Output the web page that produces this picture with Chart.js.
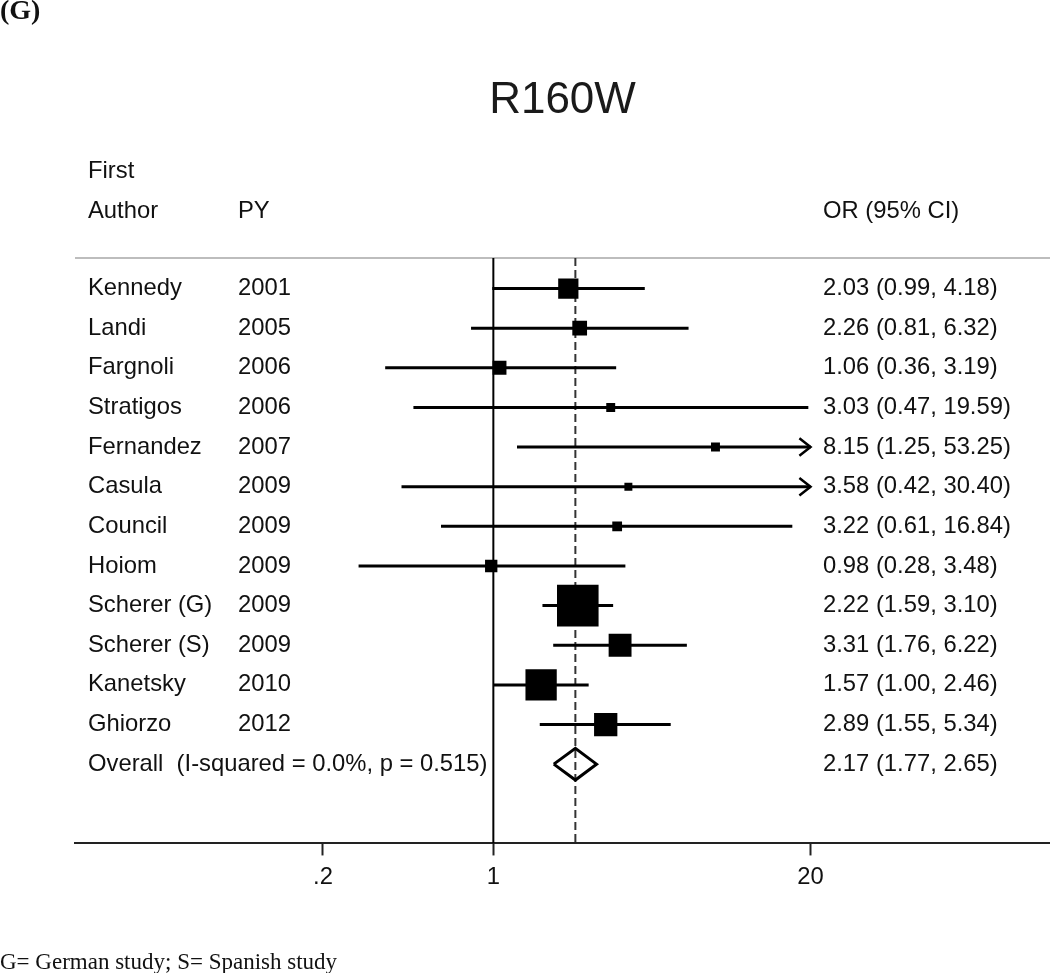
<!DOCTYPE html>
<html>
<head>
<meta charset="utf-8">
<title>R160W</title>
<script src="https://cdn.jsdelivr.net/npm/chart.js@4.4.1/dist/chart.umd.min.js"></script>
<style>
	html, body { margin: 0; padding: 0; background: #fff; overflow: hidden; }
	#wrap { width: 1050px; height: 973px; position: relative; }
</style>
</head>
<body>
<div id="wrap"><canvas id="forest"></canvas></div>
<script>
// study data
const authors = ['Kennedy', 'Landi', 'Fargnoli', 'Stratigos', 'Fernandez', 'Casula',
	'Council', 'Hoiom', 'Scherer (G)', 'Scherer (S)', 'Kanetsky', 'Ghiorzo'];
const years = ['2001', '2005', '2006', '2006', '2007', '2009',
	'2009', '2009', '2009', '2009', '2010', '2012'];
const oddsRatio = [2.03, 2.26, 1.06, 3.03, 8.15, 3.58, 3.22, 0.98, 2.22, 3.31, 1.57, 2.89];
const ciLower = [0.99, 0.81, 0.36, 0.47, 1.25, 0.42, 0.61, 0.28, 1.59, 1.76, 1.00, 1.55];
const ciUpper = [4.18, 6.32, 3.19, 19.59, 53.25, 30.40, 16.84, 3.48, 3.10, 6.22, 2.46, 5.34];
// weights (%)
const weights = [7.9, 3.9, 3.4, 1.2, 1.2, 0.9, 1.5, 2.6, 36.5, 10.3, 20.1, 10.7];

const overallLabel = 'Overall  (I-squared = 0.0%, p = 0.515)';
const overallOR = 2.17;
const overallLower = 1.77;
const overallUpper = 2.65;

const tickValues = [0.2, 1, 20];
const tickLabels = ['.2', '1', '20'];
const ciClip = 20;

const SANS = '"Liberation Sans", Arial, sans-serif';
const SERIF = '"Liberation Serif", "Times New Roman", serif';

(function forest() {
	const nRows = authors.length;
	const overallRow = nRows + 1;

	// CI segments, broken with gaps
	let ciData = [];
	let arrowData = [];
	for (let i = 0; i < nRows; i++) {
		let y = i + 1;
		ciData.push({x: ciLower[i], y: y});
		ciData.push({x: Math.min(ciUpper[i], ciClip), y: y});
		ciData.push({x: null, y: null});
		if (ciUpper[i] > ciClip) {
			arrowData.push({x: ciClip * 0.9, y: y - 0.22});
			arrowData.push({x: ciClip, y: y});
			arrowData.push({x: ciClip * 0.9, y: y + 0.22});
			arrowData.push({x: null, y: null});
		}
	}

	let boxData = oddsRatio.map((v, i) => ({x: v, y: i + 1}));
	let boxRadius = weights.map((w) => (6.6 * Math.sqrt(w) + 1.7) / Math.SQRT2);

	let diamond = [
		{x: overallLower, y: overallRow},
		{x: overallOR, y: overallRow - 0.4},
		{x: overallUpper, y: overallRow},
		{x: overallOR, y: overallRow + 0.4},
		{x: overallLower, y: overallRow}
	];

	const yMin = 0.23, yMax = 15;

	const textPlugin = {
		id: 'forestText',
		beforeDatasetsDraw(chart) {
			const ctx = chart.ctx;
			const area = chart.chartArea;
			ctx.save();
			ctx.strokeStyle = '#bdbdbd';
			ctx.lineWidth = 2;
			ctx.beginPath();
			ctx.moveTo(area.left, area.top);
			ctx.lineTo(area.right, area.top);
			ctx.stroke();
			ctx.restore();
		},
		afterDraw(chart) {
			const ctx = chart.ctx;
			const ys = chart.scales.y;
			const colName = 88, colYear = 238, colOR = 823;
			ctx.save();
			ctx.fillStyle = '#111';
			ctx.textBaseline = 'middle';
			ctx.textAlign = 'left';
			ctx.font = '23.8px ' + SANS;

			ctx.fillText('First', colName, ys.getPixelForValue(-1.95));
			ctx.fillText('Author', colName, ys.getPixelForValue(-0.95));
			ctx.fillText('PY', colYear, ys.getPixelForValue(-0.95));
			ctx.fillText('OR (95% CI)', colOR, ys.getPixelForValue(-0.95));

			for (let i = 0; i < nRows; i++) {
				let py = ys.getPixelForValue(i + 1);
				ctx.fillText(authors[i], colName, py);
				ctx.fillText(years[i], colYear, py);
				ctx.fillText(oddsRatio[i].toFixed(2) + ' (' + ciLower[i].toFixed(2) + ', ' +
					ciUpper[i].toFixed(2) + ')', colOR, py);
			}
			let po = ys.getPixelForValue(overallRow);
			ctx.fillText(overallLabel, colName, po);
			ctx.fillText(overallOR.toFixed(2) + ' (' + overallLower.toFixed(2) + ', ' +
				overallUpper.toFixed(2) + ')', colOR, po);

			ctx.textBaseline = 'alphabetic';
			ctx.font = 'bold 28px ' + SERIF;
			ctx.fillText('(G)', 0, 19);

			ctx.font = '23px ' + SERIF;
			ctx.fillText('G= German study; S= Spanish study', 0, 969);
			ctx.restore();
		}
	};

	let ctx = document.getElementById('forest').getContext('2d');
	let chart = new Chart(ctx, {
		type: 'scatter',
		data: {
			datasets: [
				{
					label: 'OR',
					data: boxData,
					pointStyle: 'rect',
					pointRadius: boxRadius,
					pointBackgroundColor: '#000',
					pointBorderWidth: 0,
					showLine: false
				},
				{
					label: 'CI',
					data: ciData,
					showLine: true,
					borderColor: '#000',
					borderWidth: 3,
					pointRadius: 0,
					spanGaps: false
				},
				{
					label: 'arrows',
					data: arrowData,
					showLine: true,
					borderColor: '#000',
					borderWidth: 2.5,
					pointRadius: 0,
					spanGaps: false
				},
				{
					label: 'overall',
					data: diamond,
					showLine: true,
					borderColor: '#000',
					borderWidth: 3,
					borderJoinStyle: 'miter',
					pointRadius: 0,
					fill: false
				},
				{
					label: 'pooled',
					data: [{x: overallOR, y: yMin}, {x: overallOR, y: yMax}],
					showLine: true,
					borderColor: '#333',
					borderWidth: 2,
					borderDash: [8, 4],
					pointRadius: 0
				},
				{
					label: 'null',
					data: [{x: 1, y: yMin}, {x: 1, y: yMax}],
					showLine: true,
					borderColor: '#000',
					borderWidth: 2,
					pointRadius: 0
				}
			]
		},
		options: {
			responsive: true,
			maintainAspectRatio: false,
			animation: false,
			layout: {
				autoPadding: false,
				padding: {top: 0, left: 75, right: 0, bottom: 73}
			},
			plugins: {
				legend: {display: false},
				tooltip: {enabled: false},
				title: {
					display: true,
					text: 'R160W',
					color: '#1a1a1a',
					fullSize: false,
					font: {family: SANS, size: 44, weight: 'normal'},
					padding: {top: 74, bottom: 131.2}
				}
			},
			scales: {
				x: {
					type: 'logarithmic',
					min: 0.01923,
					max: 192,
					bounds: 'data',
					afterBuildTicks: (scale) => {
						scale.ticks = tickValues.map((v) => ({value: v}));
					},
					afterFit: (scale) => {
						scale.paddingLeft = 0;
						scale.paddingRight = 0;
					},
					ticks: {
						autoSkip: false,
						maxRotation: 0,
						padding: 8,
						color: '#111',
						font: {family: SANS, size: 23.8},
						callback: (v, i) => tickLabels[i]
					},
					grid: {
						display: true,
						drawOnChartArea: false,
						drawTicks: true,
						tickLength: 12,
						tickWidth: 2,
						tickColor: '#222'
					},
					border: {display: true, color: '#222', width: 2}
				},
				y: {
					type: 'linear',
					reverse: true,
					min: yMin,
					max: yMax,
					display: false
				}
			}
		},
		plugins: [textPlugin]
	});
})();
</script>
</body>
</html>
